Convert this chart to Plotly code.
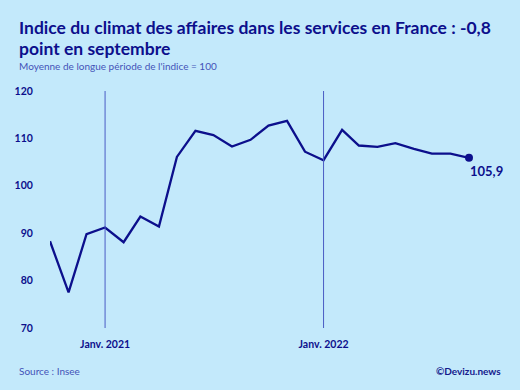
import plotly.graph_objects as go
import pandas as pd

months = pd.date_range("2020-10-01", "2022-09-01", freq="MS")
values = [88.3, 77.5, 89.8, 91.2, 88.1, 93.5, 91.4, 106.1, 111.6, 110.7, 108.3, 109.7,
          112.7, 113.7, 107.2, 105.4, 111.8, 108.5, 108.2, 109.0, 107.8, 106.8, 106.8, 105.9]
year_marks = ["2021-01-01", "2022-01-01"]
year_labels = ["Janv. 2021", "Janv. 2022"]
y_ticks = [70, 80, 90, 100, 110, 120]

W, H = 520, 390
L, R, T, B = 50, 51, 91, 62
PW, PH = W - L - R, H - T - B

def px(x):
    return (x - L) / PW

def py(y):
    return (H - B - y) / PH

BG = "#c3e9fb"
NAVY = "#0c0f8c"
FONT = "Lato"

fig = go.Figure()
fig.add_trace(go.Scatter(x=months, y=values, mode="lines", cliponaxis=False,
                         line=dict(color=NAVY, width=2.3), hoverinfo="skip"))
fig.add_trace(go.Scatter(x=[months[-1]], y=[values[-1]], mode="markers", cliponaxis=False,
                         marker=dict(color=NAVY, size=8), hoverinfo="skip"))

for d in year_marks:
    fig.add_shape(type="line", x0=d, x1=d, y0=0, y1=1, xref="x", yref="paper",
                  line=dict(color="#4a5cc4", width=1))

fig.add_annotation(x=months[-1], y=values[-1], text="<b>" + f"{values[-1]:.1f}".replace(".", ",") + "</b>",
                   showarrow=False, xanchor="left", yanchor="middle", xshift=-1, yshift=-13,
                   font=dict(family=FONT, size=13, color=NAVY))

ann = [
    ("<b>Indice du climat des affaires dans les services en France : -0,8</b>", 17, 28, 17.5, NAVY, "left"),
    ("<b>point en septembre</b>", 17, 48, 17.5, NAVY, "left"),
    ("Moyenne de longue période de l'indice = 100", 17, 66, 10, "#4353b8", "left"),
    ("Source : Insee", 17, 371, 10, "#4353b8", "left"),
    ("<b>©Devizu.news</b>", 503, 371, 10, "#141a8c", "right"),
]
for text, x, y, s, c, xa in ann:
    fig.add_annotation(x=px(x), y=py(y), xref="paper", yref="paper", text=text,
                       showarrow=False, xanchor=xa, yanchor="middle",
                       font=dict(family=FONT, size=s, color=c))

fig.update_layout(
    width=W, height=H, margin=dict(l=L, r=R, t=T, b=B),
    paper_bgcolor=BG, plot_bgcolor=BG, showlegend=False,
    font=dict(family=FONT, color=NAVY),
    xaxis=dict(range=[months[0], months[-1]], showgrid=False, zeroline=False,
               tickvals=year_marks, ticktext=["<b>%s</b>" % t for t in year_labels],
               ticks="outside", ticklen=6, tickcolor="rgba(0,0,0,0)",
               tickfont=dict(family=FONT, size=10.5, color=NAVY), showline=False),
    yaxis=dict(range=[70, 120], showgrid=False, zeroline=False, tickvals=y_ticks,
               ticktext=["<b>%d</b>" % v for v in y_ticks],
               ticks="outside", ticklen=14, tickcolor="rgba(0,0,0,0)",
               tickfont=dict(family=FONT, size=10.5, color=NAVY), showline=False),
)
fig.write_html("out.html")
